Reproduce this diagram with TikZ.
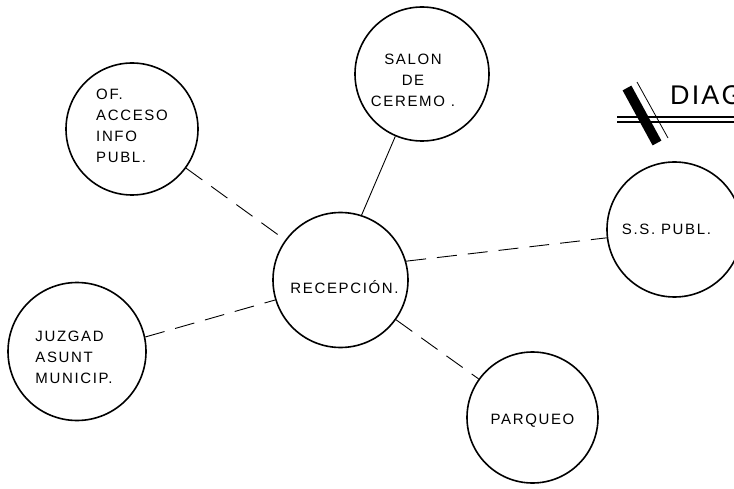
\documentclass[tikz,border=0pt]{standalone}
\usepackage{fontspec}
\setmainfont{Liberation Sans}
\newfontfamily\bubfont{Liberation Sans}[LetterSpace=11]
\newfontfamily\titfont{Liberation Sans}[LetterSpace=8]
\usetikzlibrary{positioning}

\begin{document}
\begin{tikzpicture}[x=1pt,y=-1pt,
  font=\bubfont\fontsize{15}{21}\selectfont,
  bub/.style={circle,draw=black,line width=1.6pt,inner sep=0pt},
  txt/.style={align=center,inner sep=0pt},
  link/.style={draw=black,line width=0.9pt,dash pattern=on 20pt off 11pt},
  solid link/.style={draw=black,line width=0.9pt}]

  \useasboundingbox[fill=white] (0,0) rectangle (734,489);

  \node[bub,minimum size=135pt,label={[txt,xshift=4pt,yshift=-7pt]center:RECEPCIÓN.}] (rec) at (340.5,280) {};
  \node[bub,minimum size=132pt,label={[txt,align=left,yshift=3pt]center:OF.\\ACCESO\\INFO\\PUBL.}] (of) at (132,129) {};
  \node[bub,minimum size=134pt,label={[txt,xshift=-9pt,yshift=-6pt]center:SALON\\DE\\CEREMO .}] (sal) at (422,74) {};
  \node[bub,minimum size=135pt,label={[txt,xshift=-8pt]center:S.S. PUBL.}] (ss) at (674.5,229.5) {};
  \node[bub,minimum size=138pt,label={[txt,align=left,xshift=-3pt,yshift=-6pt]center:JUZGAD\\ASUNT\\MUNICIP.}] (juz) at (77,351.5) {};
  \node[bub,minimum size=131pt,label={[txt,yshift=-3pt]center:PARQUEO}] (par) at (532.5,417.5) {};

  \draw[link] (of) -- (rec);
  \draw[solid link] (sal) -- (rec.72);
  \draw[link] (rec.16) -- (ss.187);
  \draw[link] (juz.12) -- (rec.197);
  \draw[link] (rec) -- (par);

  \node[anchor=base west,inner sep=0pt,font=\titfont\fontsize{27}{27}\selectfont] (tit) at (670,105) {DIAG};
  \draw[line width=1.2pt] (617,117) -- (734,117) (617,122) -- (734,122);
  \draw[line width=10pt] (627,88) -- (657,143);
  \draw[line width=0.8pt] (637,82) -- (668,138);
\end{tikzpicture}
\end{document}
